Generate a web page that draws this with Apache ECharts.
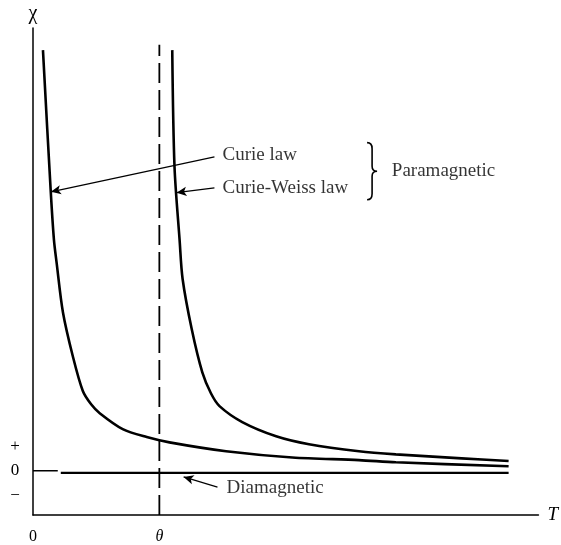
<!DOCTYPE html>
<html>
<head>
<meta charset="utf-8">
<script src="https://cdn.jsdelivr.net/npm/echarts@6/dist/echarts.min.js"></script>
<style>html,body{margin:0;padding:0;background:#fff}#c{width:561px;height:545px}</style>
</head>
<body>
<div id="c"></div>
<script>
// ---- data (T, chi) ----
var curieLaw = [[0.197,9.50],[0.349,6.35],[0.414,5.22],[0.467,4.70],[0.592,3.58],[0.789,2.58],[0.986,1.80],[1.15,1.50],[1.32,1.30],[1.775,0.94],[2.25,0.76],[2.70,0.64],[3.82,0.44],[5.13,0.30],[6.45,0.24],[7.18,0.19],[9.41,0.10]];
var curieWeiss = [[2.755,9.50],[2.80,6.86],[2.90,5.22],[2.96,4.33],[3.14,3.20],[3.35,2.22],[3.52,1.75],[3.69,1.46],[4.14,1.10],[4.81,0.78],[5.46,0.60],[6.45,0.44],[7.18,0.37],[8.48,0.28],[9.41,0.22]];
var diamagnetic = [[0.55,-0.05],[9.41,-0.05]];
var zeroStub = [[0,0],[0.49,0]];
var thetaLine = [[2.5,-1],[2.5,9.62]];
var xTickValues = [0, 2.5];
var xTickLabels = ['0', '{i|θ}'];
var yTickValues = [0.55, 0, -0.56];
var yTickLabels = ['+', '0', '−'];
var annotations = [
  {name:'Curie law', value:[3.75,7.13]},
  {name:'Curie-Weiss law', value:[3.75,6.39]},
  {name:'Paramagnetic', value:[7.10,6.76]},
  {name:'Diamagnetic', value:[3.83,-0.39]}
];
var arrows = [
  [[3.59,7.09],[0.355,6.30]],
  [[3.59,6.39],[2.84,6.28]],
  [[3.65,-0.37],[2.98,-0.14]]
];
var brace = [[6.61,7.41,6.12]];

var serif = 'Liberation Serif';
var chart = echarts.init(document.getElementById('c'));
chart.setOption({
  animation:false,
  backgroundColor:'#fff',
  grid:{left:33,right:21,top:28,bottom:29,containLabel:false},
  xAxis:{type:'value',min:0,max:10,
    name:'T',nameLocation:'end',nameGap:9,
    nameTextStyle:{fontFamily:serif,fontStyle:'italic',fontSize:19,color:'#000',verticalAlign:'middle'},
    axisLine:{onZero:false,lineStyle:{color:'#000',width:1.5}},
    axisTick:{show:false},splitLine:{show:false},
    axisLabel:{customValues:xTickValues,margin:14,fontFamily:serif,fontSize:16,color:'#000',
      formatter:function(v){var i=xTickValues.indexOf(v);return i>=0?xTickLabels[i]:'';},
      rich:{i:{fontFamily:serif,fontStyle:'italic',fontSize:16,color:'#000'}}}
  },
  yAxis:{type:'value',min:-1,max:10,
    name:'χ',nameLocation:'end',nameGap:4,
    nameTextStyle:{fontFamily:serif,fontSize:20,color:'#000',align:'center'},
    axisLine:{onZero:false,lineStyle:{color:'#000',width:1.5}},
    axisTick:{show:false},splitLine:{show:false},
    axisLabel:{customValues:yTickValues,margin:18,align:'center',fontFamily:serif,fontSize:17,color:'#000',
      formatter:function(v){var i=yTickValues.indexOf(v);return i>=0?yTickLabels[i]:'';}}
  },
  series:[
    {type:'line',data:curieLaw,smooth:0.3,symbol:'none',lineStyle:{color:'#000',width:2.6}},
    {type:'line',data:curieWeiss,smooth:0.3,symbol:'none',lineStyle:{color:'#000',width:2.6}},
    {type:'line',data:diamagnetic,symbol:'none',lineStyle:{color:'#000',width:2.2},
      markLine:{silent:true,symbol:['none','arrow'],symbolSize:[7,10],label:{show:false},
        lineStyle:{color:'#000',width:1.2,type:'solid'},
        data:arrows.map(function(a){return [{coord:a[0]},{coord:a[1]}];})}},
    {type:'line',data:zeroStub,symbol:'none',lineStyle:{color:'#000',width:1.5}},
    {type:'line',data:thetaLine,symbol:'none',lineStyle:{color:'#000',width:1.8,type:[20,7]}},
    {type:'scatter',data:annotations,symbolSize:0,silent:true,
      label:{show:true,position:'right',distance:0,formatter:'{b}',fontFamily:serif,fontSize:19,color:'#000'}},
    {type:'custom',data:brace,silent:true,
      renderItem:function(params,api){
        var t=api.coord([api.value(0),api.value(1)]);
        var b=api.coord([api.value(0),api.value(2)]);
        var x0=t[0],y0=t[1],y1=b[1],ym=(y0+y1)/2,w=5;
        var d='M'+x0+','+y0+' Q'+(x0+w)+','+y0+' '+(x0+w)+','+(y0+6)+
          ' L'+(x0+w)+','+(ym-5)+' Q'+(x0+w)+','+ym+' '+(x0+w+5)+','+ym+
          ' Q'+(x0+w)+','+ym+' '+(x0+w)+','+(ym+5)+
          ' L'+(x0+w)+','+(y1-6)+' Q'+(x0+w)+','+y1+' '+x0+','+y1;
        return {type:'path',shape:{pathData:d},style:{stroke:'#000',fill:null,lineWidth:1.6}};
      }}
  ]
});
</script>
</body>
</html>
